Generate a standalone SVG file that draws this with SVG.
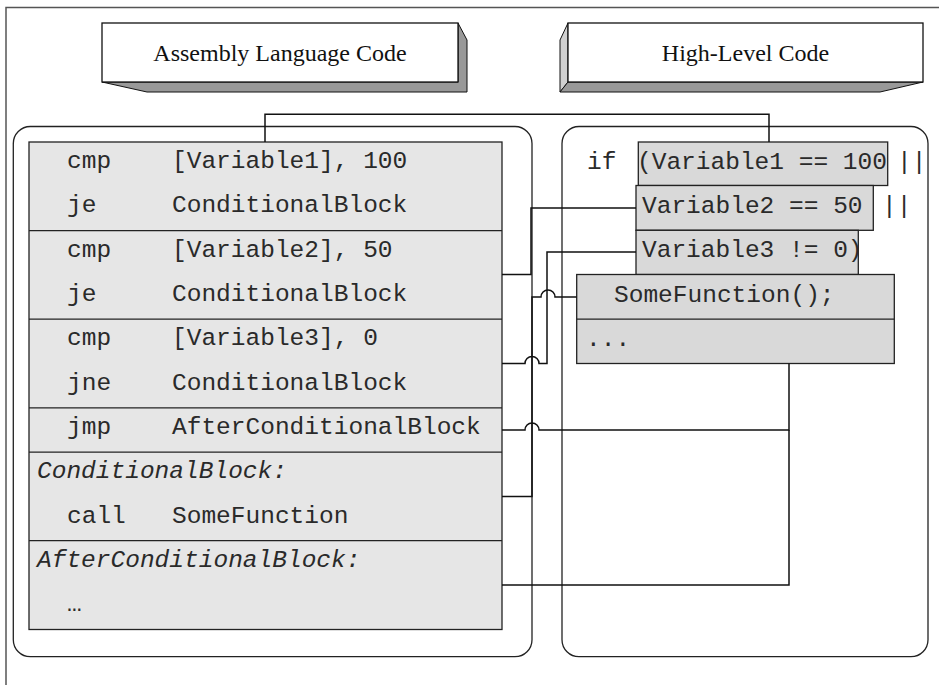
<svg xmlns="http://www.w3.org/2000/svg" width="939" height="685" viewBox="0 0 939 685">
<style>
.frame{fill:none;stroke:#555;stroke-width:1.5}
.cont{fill:#fff;stroke:#222;stroke-width:1.3}
.hface{fill:#fff;stroke:#111;stroke-width:1.3}
.shd{fill:#999;stroke:#111;stroke-width:1}
.shl{fill:#d0d0d0;stroke:#111;stroke-width:1}
.htxt{font-family:"Liberation Serif","Times New Roman",serif;font-size:24px;fill:#111;text-anchor:middle}
.code{fill:#e6e6e6;stroke:#222;stroke-width:1.3}
.hl{fill:#d9d9d9;stroke:#222;stroke-width:1.3}
.div{stroke:#222;stroke-width:1.3}
.mono{font-family:"Liberation Mono","Courier New",monospace;font-size:24.5px;fill:#2a2a2a}
.it{font-style:italic}
.conn{fill:none;stroke:#111;stroke-width:1.5}
</style>
<rect class="frame" x="6" y="7.5" width="950" height="700"/>

<g id="header-asm">
<polygon class="shd" points="458,23 467,40 467,92 147,92 102,82 458,82"/>
<rect class="hface" x="102" y="23" width="356" height="59"/>
<text class="htxt" x="280" y="61">Assembly Language Code</text>
</g>

<g id="header-hl">
<polygon class="shl" points="568,23 560,40 560,92 568,82"/>
<polygon class="shd" points="568,82 923,82 880,92 560,92"/>
<rect class="hface" x="568" y="23" width="355" height="59"/>
<text class="htxt" x="745.5" y="61">High-Level Code</text>
</g>

<g id="container-asm">
<rect class="cont" x="13.3" y="126.5" width="518.7" height="530.2" rx="17"/>
</g>
<g id="container-hl">
<rect class="cont" x="562" y="126.5" width="366" height="530.2" rx="17"/>
</g>

<g id="asm-code">
<rect class="code" x="29" y="142" width="473" height="487.5"/>
<line class="div" x1="29" y1="230.6" x2="502" y2="230.6"/>
<line class="div" x1="29" y1="319.2" x2="502" y2="319.2"/>
<line class="div" x1="29" y1="407.8" x2="502" y2="407.8"/>
<line class="div" x1="29" y1="452.1" x2="502" y2="452.1"/>
<line class="div" x1="29" y1="540.7" x2="502" y2="540.7"/>
<text class="mono" x="67" y="168.4">cmp</text><text class="mono" x="172" y="168.4">[Variable1], 100</text>
<text class="mono" x="67" y="212.4">je</text><text class="mono" x="172" y="212.4">ConditionalBlock</text>
<text class="mono" x="67" y="256.8">cmp</text><text class="mono" x="172" y="256.8">[Variable2], 50</text>
<text class="mono" x="67" y="301.1">je</text><text class="mono" x="172" y="301.1">ConditionalBlock</text>
<text class="mono" x="67" y="345.4">cmp</text><text class="mono" x="172" y="345.4">[Variable3], 0</text>
<text class="mono" x="67" y="389.7">jne</text><text class="mono" x="172" y="389.7">ConditionalBlock</text>
<text class="mono" x="67" y="434">jmp</text><text class="mono" x="172" y="434">AfterConditionalBlock</text>
<text class="mono it" x="37" y="478.3">ConditionalBlock:</text>
<text class="mono" x="67" y="522.6">call</text><text class="mono" x="172" y="522.6">SomeFunction</text>
<text class="mono it" x="37" y="566.9">AfterConditionalBlock:</text>
<text class="mono" x="67" y="611.2">…</text>
</g>

<g id="hl-if">
<text class="mono" x="587" y="168.6">if</text>
</g>
<g id="hl-cond1">
<rect class="hl" x="638.3" y="142" width="249.4" height="43.5"/>
<text class="mono" x="637" y="168.6">(Variable1 == 100</text>
<text class="mono" x="897" y="168.6">||</text>
</g>
<g id="hl-cond2">
<rect class="hl" x="636" y="185.5" width="237.3" height="44.8"/>
<text class="mono" x="642" y="212.8">Variable2 == 50</text>
<text class="mono" x="882" y="212.8">||</text>
</g>
<g id="hl-cond3">
<rect class="hl" x="636" y="230.3" width="222.3" height="44.2"/>
<text class="mono" x="642" y="257">Variable3 != 0)</text>
</g>
<g id="hl-body">
<rect class="hl" x="576.7" y="274.5" width="317.6" height="89"/>
<line class="div" x1="576.7" y1="319.2" x2="894.3" y2="319.2"/>
<text class="mono" x="614" y="301.5">SomeFunction();</text>
<text class="mono" x="586" y="345.8">...</text>
</g>

<g id="connectors">
<path class="conn" d="M265,142 V114.3 H769 V142"/>
<path class="conn" d="M502,274.4 H531 V208 H636"/>
<path class="conn" d="M502,363.5 H525 a7,7 0 0 1 14,0 H547 V252 H636"/>
<path class="conn" d="M502,496.4 H532 V297 H541 a7,7 0 0 1 14,0 H576.7"/>
<path class="conn" d="M502,430 H525 a7,7 0 0 1 14,0 H789 V363.5"/>
<path class="conn" d="M502,585 H789 V430"/>
</g>
</svg>
